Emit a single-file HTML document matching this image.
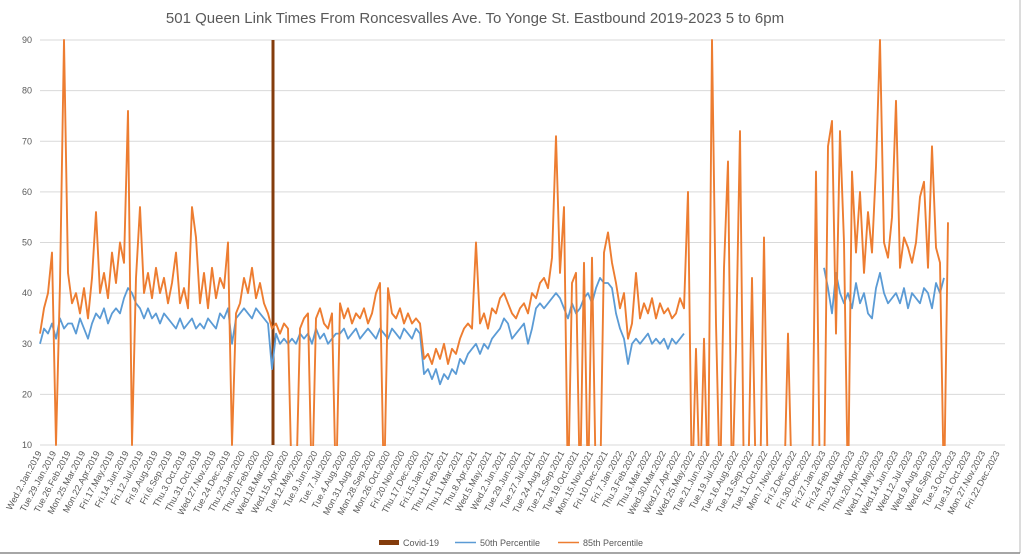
<!DOCTYPE html>
<html><head><meta charset="utf-8"><style>
body{margin:0;background:#fff;}
svg{display:block;font-family:"Liberation Sans",sans-serif;}
</style></head><body>
<svg id="chart" width="1024" height="555" viewBox="0 0 1024 555">
<rect x="0" y="0" width="1024" height="555" fill="#fff"/>
<line x1="1020" y1="0" x2="1020" y2="553" stroke="#d0d0d0" stroke-width="1.5"/>
<line x1="0" y1="553" x2="1020" y2="553" stroke="#888" stroke-width="1.5"/>
<text x="475" y="23" text-anchor="middle" font-size="15" fill="#595959">501 Queen Link Times From Roncesvalles Ave. To Yonge St. Eastbound 2019-2023 5 to 6pm</text>
<defs><clipPath id="plotclip"><rect x="38" y="39" width="970" height="407"/></clipPath></defs>
<g id="grid"></g><g id="yticks"></g><g id="xlabels"></g>
<g id="series" clip-path="url(#plotclip)"></g>
<g>
<rect x="379" y="540" width="20" height="5" fill="#843C0C"/>
<text x="403" y="546" font-size="9" fill="#595959">Covid-19</text>
<line x1="455" y1="542.5" x2="476" y2="542.5" stroke="#5B9BD5" stroke-width="1.5"/>
<text x="480" y="546" font-size="9" fill="#595959">50th Percentile</text>
<line x1="558" y1="542.5" x2="579" y2="542.5" stroke="#ED7D31" stroke-width="1.5"/>
<text x="583" y="546" font-size="9" fill="#595959">85th Percentile</text>
</g>
</svg>
<script>
const yTicks=[10,20,30,40,50,60,70,80,90];
const xLabels=["Wed.2.Jan.2019","Tue.29.Jan.2019","Tue.26.Feb.2019","Mon.25.Mar.2019","Mon.22.Apr.2019","Fri.17.May.2019","Fri.14.Jun.2019","Fri.12.Jul.2019","Fri.9.Aug.2019","Fri.6.Sep.2019","Thu.3.Oct.2019","Thu.31.Oct.2019","Wed.27.Nov.2019","Tue.24.Dec.2019","Thu.23.Jan.2020","Thu.20.Feb.2020","Wed.18.Mar.2020","Wed.15.Apr.2020","Tue.12.May.2020","Tue.9.Jun.2020","Tue.7.Jul.2020","Tue.4.Aug.2020","Mon.31.Aug.2020","Mon.28.Sep.2020","Mon.26.Oct.2020","Fri.20.Nov.2020","Thu.17.Dec.2020","Fri.15.Jan.2021","Thu.11.Feb.2021","Thu.11.Mar.2021","Thu.8.Apr.2021","Wed.5.May.2021","Wed.2.Jun.2021","Tue.29.Jun.2021","Tue.27.Jul.2021","Tue.24.Aug.2021","Tue.21.Sep.2021","Tue.19.Oct.2021","Mon.15.Nov.2021","Fri.10.Dec.2021","Fri.7.Jan.2022","Thu.3.Feb.2022","Thu.3.Mar.2022","Wed.30.Mar.2022","Wed.27.Apr.2022","Wed.25.May.2022","Tue.21.Jun.2022","Tue.19.Jul.2022","Tue.16.Aug.2022","Tue.13.Sep.2022","Tue.11.Oct.2022","Mon.7.Nov.2022","Fri.2.Dec.2022","Fri.30.Dec.2022","Fri.27.Jan.2023","Fri.24.Feb.2023","Thu.23.Mar.2023","Thu.20.Apr.2023","Wed.17.May.2023","Wed.14.Jun.2023","Wed.12.Jul.2023","Wed.9.Aug.2023","Wed.6.Sep.2023","Tue.3.Oct.2023","Tue.31.Oct.2023","Mon.27.Nov.2023","Fri.22.Dec.2023"];
const p50=[30,33,32,34,31,35,33,34,34,32,35,33,31,34,36,35,37,34,36,37,36,39,41,40,38,37,35,37,35,36,34,36,35,34,33,35,33,34,35,33,34,33,35,34,33,36,35,37,30,35,36,37,36,35,37,36,35,34,25,
32,30,31,30,31,30,32,31,32,30,33,31,32,30,31,32,32,33,31,32,33,31,32,33,32,31,33,32,31,33,32,31,33,32,31,33,32,24,25,23,25,22,24,23,25,24,27,26,28,29,30,28,30,29,31,32,33,35,34,31,32,33,34,30,33,37,38,37,38,39,40,39,37,35,38,36,37,39,40,38,41,43,42,42,41,36,33,31,26,30,31,30,31,32,30,31,30,31,29,31,30,31,32,
null,null,null,null,null,null,null,null,null,null,null,null,null,null,null,null,null,null,null,null,null,null,null,null,null,null,null,null,null,null,null,null,null,null,
45,41,36,44,40,38,40,37,42,38,40,36,35,41,44,40,38,39,40,38,41,37,40,39,38,41,40,37,42,40,43,
null,null,null,null,null,null,null,null,null,null,null,null,null,null,null];
const p85=[32,37,40,48,10,42,90,44,38,40,36,41,35,43,56,40,44,39,48,42,50,46,76,10,43,57,40,44,39,45,40,43,38,42,48,38,41,37,57,51,38,44,37,45,39,43,41,50,10,36,38,43,40,45,39,42,38,36,33,
34,32,34,33,0,0,33,35,36,0,35,37,34,33,36,0,38,35,37,34,36,35,37,34,36,40,42,0,41,36,35,37,34,36,34,35,34,27,28,26,29,27,30,26,29,28,31,33,34,33,50,34,36,33,37,36,39,40,38,36,35,37,38,36,40,39,42,43,41,47,71,44,57,0,42,44,0,46,0,47,0,0,48,52,46,42,37,40,31,34,44,35,38,36,39,35,38,36,37,35,36,39,37,
60,0,29,0,31,0,90,34,0,45,66,0,29,72,0,0,43,0,0,51,0,0,0,0,0,32,0,0,0,0,0,0,64,0,0,
69,74,32,72,50,0,64,48,60,44,56,48,65,90,50,47,55,78,45,51,49,46,50,59,62,45,69,49,46,0,54,
null,null,null,null,null,null,null,null,null,null,null,null,null,null,null];
const covidIndex=58.25;

const NS="http://www.w3.org/2000/svg";
const X0=40,DX=4,Y10=445,Y90=40;
function xs(i){return X0+i*DX;}
function ys(v){return Y10-(v-10)*(Y10-Y90)/80;}
function mk(tag,attrs,parent){const e=document.createElementNS(NS,tag);for(const k in attrs)e.setAttribute(k,attrs[k]);parent.appendChild(e);return e;}
const grid=document.getElementById('grid'),yt=document.getElementById('yticks'),xl=document.getElementById('xlabels'),ser=document.getElementById('series');
yTicks.forEach(t=>{
  const l=mk('line',{x1:X0,x2:1005,y1:ys(t),y2:ys(t),stroke:'#d9d9d9','stroke-width':1},grid);
  
  
  const tx=mk('text',{x:32,y:ys(t)+3,'text-anchor':'end','font-size':9,fill:'#595959'},yt);
  tx.textContent=t;
  
  
});
xLabels.forEach((s,i)=>{
  const x=42+i*(1000-42)/(xLabels.length-1);
  const tx=mk('text',{x:0,y:0,'text-anchor':'end','font-size':9,fill:'#595959',transform:`translate(${x},453) rotate(-62)`},xl);
  tx.textContent=s;
  
  
});
function pathFor(arr){let d='',pen=false;arr.forEach((v,i)=>{if(v===null){pen=false;return;}d+=(pen?'L':'M')+xs(i).toFixed(1)+','+ys(v).toFixed(1);pen=true;});return d;}
const cv=mk('line',{x1:xs(covidIndex),x2:xs(covidIndex),y1:Y90,y2:Y10,stroke:'#843C0C','stroke-width':3},ser);


const b=mk('path',{d:pathFor(p50),fill:'none',stroke:'#5B9BD5','stroke-width':1.8,'stroke-linejoin':'round'},ser);


const o=mk('path',{d:pathFor(p85),fill:'none',stroke:'#ED7D31','stroke-width':1.9,'stroke-linejoin':'round'},ser);


</script>
</body></html>
